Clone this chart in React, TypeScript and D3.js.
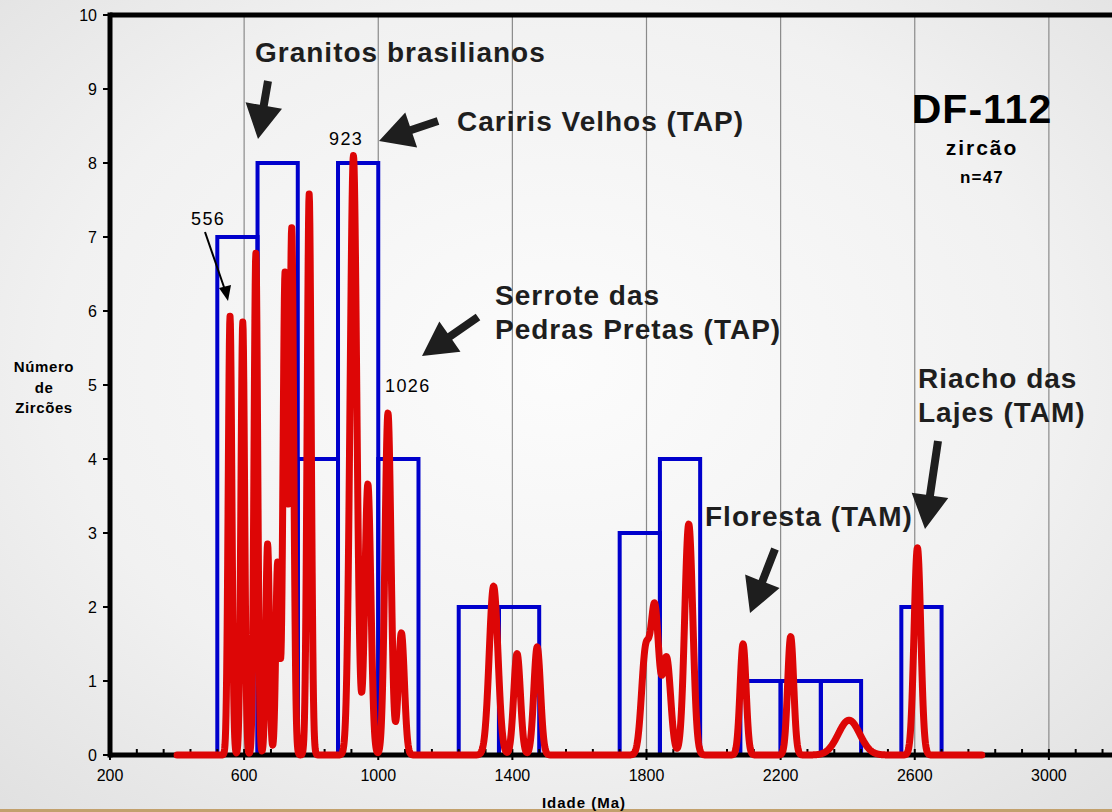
import { useEffect, useRef } from "react"
import * as d3 from "d3"

// histogram: bin start ages (Ma), bin width 120 Ma, zircon counts
const binStarts = [520, 640, 760, 880, 1000, 1240, 1360, 1720, 1840, 2080, 2200, 2320, 2560]
const binCounts = [7, 8, 4, 8, 4, 2, 2, 3, 4, 1, 1, 1, 2]
const binWidth = 120

// probability curve components: age (Ma), height, spread (Ma)
const peakAges = [558, 596, 635, 670, 700, 722, 742, 794, 926, 969, 1029, 1069, 1344, 1414, 1474, 1797, 1825, 1860, 1926, 2088, 2230, 2404, 2608]
const peakHeights = [5.93, 5.85, 6.78, 2.85, 2.6, 6.5, 7.1, 7.58, 8.1, 3.66, 4.62, 1.65, 2.28, 1.37, 1.46, 1.36, 1.94, 1.3, 3.12, 1.5, 1.6, 0.47, 2.8]
const peakSpreads = [5.5, 5.5, 5.5, 5.5, 5.5, 6, 6, 6, 10, 9, 9, 9, 13, 10, 10, 12, 12, 12, 12, 9, 9, 32, 10]
const curveRange = [400, 2800]

const xTicks = [200, 600, 1000, 1400, 1800, 2200, 2600, 3000]
const yTicks = [0, 1, 2, 3, 4, 5, 6, 7, 8, 9, 10]

export default function App() {
  const svgRef = useRef(null)

  useEffect(() => {
    if (!svgRef.current) return
    const svg = d3.select(svgRef.current)
    svg.selectAll("*").remove()

    const width = 1112
    const height = 812
    const font = "'Liberation Sans', Arial, sans-serif"
    const ink = "#1e1e1e"

    const x = d3.scaleLinear().domain([200, 3400]).range([110, 1183])
    const y = d3.scaleLinear().domain([0, 10]).range([755, 15])

    // fundo
    const defs = svg.append("defs")
    const grad = defs
      .append("radialGradient")
      .attr("id", "bg")
      .attr("cx", "50%")
      .attr("cy", "45%")
      .attr("r", "75%")
    grad.append("stop").attr("offset", "0%").attr("stop-color", "#fcfcfc")
    grad.append("stop").attr("offset", "60%").attr("stop-color", "#f1f1f1")
    grad.append("stop").attr("offset", "100%").attr("stop-color", "#e0e0e0")
    svg.append("rect").attr("width", width).attr("height", height).attr("fill", "url(#bg)")
    svg.append("rect").attr("x", 0).attr("y", 809).attr("width", width).attr("height", 3).attr("fill", "#c2a06c")

    // linhas de grade
    svg
      .append("g")
      .selectAll("line")
      .data(xTicks.slice(1))
      .enter()
      .append("line")
      .attr("x1", (d) => x(d))
      .attr("x2", (d) => x(d))
      .attr("y1", y(10))
      .attr("y2", y(0))
      .attr("stroke", "#8a8a8a")
      .attr("stroke-width", 1.2)

    // histograma
    svg
      .append("g")
      .selectAll("rect")
      .data(binStarts)
      .enter()
      .append("rect")
      .attr("x", (d) => x(d))
      .attr("y", (d, i) => y(binCounts[i]))
      .attr("width", (d) => x(d + binWidth) - x(d))
      .attr("height", (d, i) => y(0) - y(binCounts[i]))
      .attr("fill", "none")
      .attr("stroke", "#0000cc")
      .attr("stroke-width", 4)

    // eixos
    const axis = svg.append("g")
    axis.append("line").attr("x1", 110).attr("x2", width + 10).attr("y1", y(10)).attr("y2", y(10)).attr("stroke", "#000").attr("stroke-width", 5)
    axis.append("line").attr("x1", 110).attr("x2", width + 10).attr("y1", y(0)).attr("y2", y(0)).attr("stroke", "#000").attr("stroke-width", 5)
    axis.append("line").attr("x1", 110).attr("x2", 110).attr("y1", y(10) - 2.5).attr("y2", y(0) + 2.5).attr("stroke", "#000").attr("stroke-width", 5)

    const minor = d3.range(200, 3400, 80)
    axis
      .selectAll(".minor")
      .data(minor)
      .enter()
      .append("line")
      .attr("x1", (d) => x(d))
      .attr("x2", (d) => x(d))
      .attr("y1", y(0) - 6)
      .attr("y2", (d) => (xTicks.includes(d) ? y(0) + 5 : y(0)))
      .attr("stroke", "#000")
      .attr("stroke-width", 2)

    axis
      .selectAll(".ytick")
      .data(yTicks)
      .enter()
      .append("line")
      .attr("x1", 103)
      .attr("x2", 110)
      .attr("y1", (d) => y(d))
      .attr("y2", (d) => y(d))
      .attr("stroke", "#000")
      .attr("stroke-width", 2)

    axis
      .selectAll(".ylab")
      .data(yTicks)
      .enter()
      .append("text")
      .attr("x", 97)
      .attr("y", (d) => y(d) + 6)
      .attr("text-anchor", "end")
      .attr("font-family", font)
      .attr("font-size", 16)
      .attr("fill", "#000")
      .text((d) => d)

    axis
      .selectAll(".xlab")
      .data(xTicks)
      .enter()
      .append("text")
      .attr("x", (d) => x(d))
      .attr("y", 781)
      .attr("text-anchor", "middle")
      .attr("font-family", font)
      .attr("font-size", 16)
      .attr("fill", "#000")
      .text((d) => d)

    // curva de probabilidade
    const ages = d3.range(curveRange[0], curveRange[1] + 1, 1)
    const dens = ages.map((a) =>
      d3.sum(peakAges, (p, i) => peakHeights[i] * Math.exp(-((a - p) ** 2) / (2 * peakSpreads[i] ** 2))),
    )
    const line = d3
      .line()
      .x((d, i) => x(ages[i]))
      .y((d) => y(d))
    svg
      .append("path")
      .datum(dens)
      .attr("d", line)
      .attr("fill", "none")
      .attr("stroke", "#dd0606")
      .attr("stroke-width", 7)
      .attr("stroke-linejoin", "round")
      .attr("stroke-linecap", "round")

    // títulos dos eixos
    const yTitle = svg
      .append("text")
      .attr("font-family", font)
      .attr("font-size", 15)
      .attr("font-weight", "bold")
      .attr("letter-spacing", 0.6)
      .attr("text-anchor", "middle")
      .attr("fill", "#000")
    ;["Número", "de", "Zircões"].forEach((t, i) => {
      yTitle.append("tspan").attr("x", 44).attr("y", 372 + i * 20.5).text(t)
    })
    svg
      .append("text")
      .attr("x", 584)
      .attr("y", 808)
      .attr("text-anchor", "middle")
      .attr("font-family", font)
      .attr("font-size", 15)
      .attr("font-weight", "bold")
      .attr("letter-spacing", 1)
      .attr("fill", "#000")
      .text("Idade (Ma)")

    // anotações
    const big = (tx, ty, t) =>
      svg
        .append("text")
        .attr("x", tx)
        .attr("y", ty)
        .attr("font-family", font)
        .attr("font-size", 28)
        .attr("font-weight", "bold")
        .attr("letter-spacing", 1)
        .attr("fill", ink)
        .text(t)
    big(255, 62, "Granitos brasilianos")
    big(457, 131, "Cariris Velhos (TAP)")
    big(495, 305, "Serrote das")
    big(495, 339, "Pedras Pretas (TAP)")
    big(918, 388, "Riacho das")
    big(918, 422, "Lajes (TAM)")
    big(705, 526, "Floresta (TAM)")

    const small = (tx, ty, t) =>
      svg
        .append("text")
        .attr("x", tx)
        .attr("y", ty)
        .attr("font-family", font)
        .attr("font-size", 18)
        .attr("letter-spacing", 1.4)
        .attr("fill", "#000")
        .text(t)
    small(191, 225, "556")
    small(329, 145, "923")
    small(385, 392, "1026")

    const centered = (ty, size, spacing, t) =>
      svg
        .append("text")
        .attr("x", 982)
        .attr("y", ty)
        .attr("text-anchor", "middle")
        .attr("font-family", font)
        .attr("font-size", size)
        .attr("font-weight", "bold")
        .attr("letter-spacing", spacing)
        .attr("fill", "#000")
        .text(t)
    centered(123, 41, 1, "DF-112")
    centered(155, 21, 2, "zircão")
    centered(183, 17, 1.2, "n=47")

    // setas grossas
    const blockArrow = (x1, y1, x2, y2, shaft, headLen, headW) => {
      const dx = x2 - x1
      const dy = y2 - y1
      const len = Math.hypot(dx, dy)
      const ux = dx / len
      const uy = dy / len
      const nx = -uy
      const ny = ux
      const bx = x2 - ux * headLen
      const by = y2 - uy * headLen
      const pts = [
        [x1 + nx * shaft / 2, y1 + ny * shaft / 2],
        [bx + nx * shaft / 2, by + ny * shaft / 2],
        [bx + nx * headW / 2, by + ny * headW / 2],
        [x2, y2],
        [bx - nx * headW / 2, by - ny * headW / 2],
        [bx - nx * shaft / 2, by - ny * shaft / 2],
        [x1 - nx * shaft / 2, y1 - ny * shaft / 2],
      ]
      svg.append("polygon").attr("points", pts.map((p) => p.join(",")).join(" ")).attr("fill", ink)
    }
    blockArrow(268, 81, 258, 139, 8, 34, 37)
    blockArrow(438, 121, 379, 141, 8, 34, 37)
    blockArrow(478, 317, 422, 356, 8, 34, 37)
    blockArrow(938, 441, 925, 529, 8, 34, 37)
    blockArrow(775, 549, 750, 613, 8, 34, 37)

    // seta fina 556
    svg.append("line").attr("x1", 205).attr("y1", 232).attr("x2", 225).attr("y2", 290).attr("stroke", "#000").attr("stroke-width", 2)
    svg.append("polygon").attr("points", "228,301 219,288 231,285").attr("fill", "#000")

    svg.attr("width", width).attr("height", height).attr("viewBox", [0, 0, width, height])
  }, [])

  return (
    <div style={{ position: "absolute", left: 0, top: 0, width: 1112, height: 812, overflow: "hidden" }}>
      <svg ref={svgRef} style={{ display: "block" }}></svg>
    </div>
  )
}
